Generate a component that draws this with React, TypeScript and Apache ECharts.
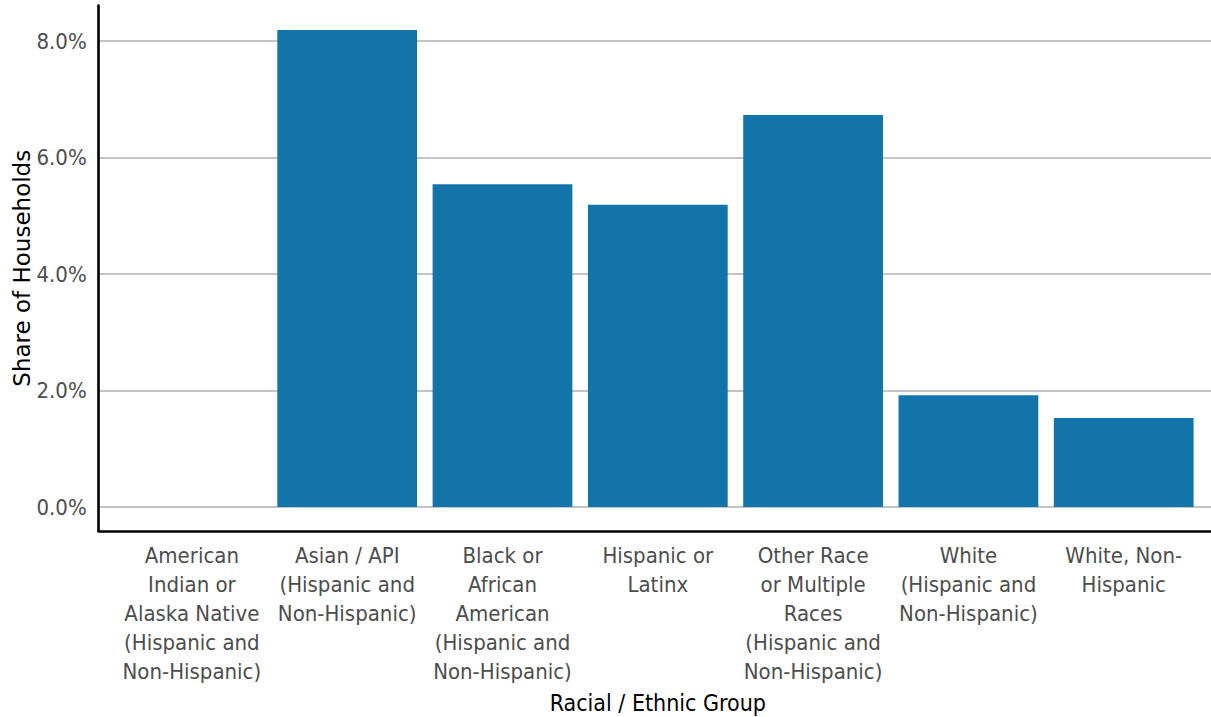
import React, { useEffect, useRef } from "react";
import * as echarts from "echarts";

const categories = [
  "American\nIndian or\nAlaska Native\n(Hispanic and\nNon-Hispanic)",
  "Asian / API\n(Hispanic and\nNon-Hispanic)",
  "Black or\nAfrican\nAmerican\n(Hispanic and\nNon-Hispanic)",
  "Hispanic or\nLatinx",
  "Other Race\nor Multiple\nRaces\n(Hispanic and\nNon-Hispanic)",
  "White\n(Hispanic and\nNon-Hispanic)",
  "White, Non-\nHispanic",
];
const shareValues = [0, 8.19, 5.54, 5.19, 6.73, 1.92, 1.53];
const yTicks = [0, 2, 4, 6, 8];
const xPositions = categories.map((_, i) => i + 1);

const LABEL_FONT = "'DejaVu Sans Condensed', 'Liberation Sans Narrow', sans-serif";

export default function App() {
  const ref = useRef<HTMLDivElement>(null);
  useEffect(() => {
    document.body.style.margin = "0";
    const chart = echarts.init(ref.current!, undefined, { renderer: "svg" });
    chart.setOption({
      animation: false,
      backgroundColor: "#ffffff",
      grid: {
        left: 98.7,
        right: -5.9,
        top: 5.5,
        bottom: 717 - 531,
        containLabel: false,
        outerBoundsMode: "none",
      },
      xAxis: {
        type: "value",
        min: 0.4,
        max: 7.6,
        name: "Racial / Ethnic Group",
        nameLocation: "middle",
        nameGap: 160,
        nameMoveOverlap: false,
        nameTextStyle: { color: "#000", fontSize: 23, fontFamily: LABEL_FONT },
        axisLine: { show: true, onZero: false, lineStyle: { color: "#000", width: 2.6 } },
        axisTick: { show: false, customValues: xPositions },
        splitLine: { show: false },
        axisLabel: {
          customValues: xPositions,
          formatter: (v: number) => categories[Math.round(v) - 1] ?? "",
          color: "#4d4d4d",
          fontSize: 22,
          lineHeight: 29,
          fontFamily: LABEL_FONT,
          margin: 10,
          align: "center",
          verticalAlign: "top",
        },
      },
      yAxis: {
        type: "value",
        min: -0.41,
        max: 8.61,
        name: "Share of Households",
        nameLocation: "middle",
        nameGap: 65,
        nameMoveOverlap: false,
        nameRotate: 90,
        nameTextStyle: { color: "#000", fontSize: 23, fontFamily: "'DejaVu Sans', sans-serif" },
        axisLine: { show: true, onZero: false, lineStyle: { color: "#000", width: 2.6 } },
        axisTick: { show: false, customValues: yTicks },
        splitLine: { show: true, lineStyle: { color: "#b0b0b0", width: 1.6 } },
        axisLabel: {
          customValues: yTicks,
          formatter: (v: number) => v.toFixed(1) + "%",
          color: "#4d4d4d",
          fontSize: 22,
          fontFamily: LABEL_FONT,
          margin: 12,
        },
      },
      series: [
        {
          type: "bar",
          data: xPositions.map((x, i) => [x, shareValues[i]]),
          barWidth: "90%",
          itemStyle: { color: "#1274a9" },
          silent: true,
        },
      ],
    });
    return () => chart.dispose();
  }, []);
  return <div ref={ref} style={{ position: "fixed", left: 0, top: 0, width: 1211, height: 717 }} />;
}
